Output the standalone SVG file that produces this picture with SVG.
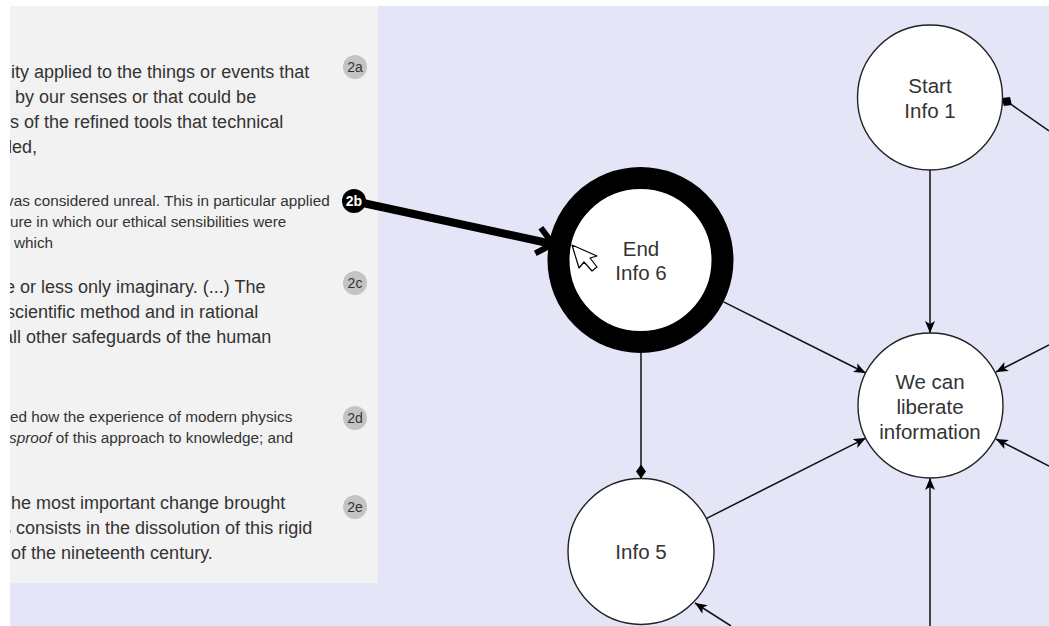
<svg xmlns="http://www.w3.org/2000/svg" width="1049" height="626" viewBox="0 0 1049 626">
<defs>
<style>
.t{font-family:"Liberation Sans",Arial,sans-serif;fill:#333}
.p18{font-size:18px}
.p15{font-size:15.3px}
.lbl{font-family:"Liberation Sans",Arial,sans-serif;font-size:20.5px;fill:#333;text-anchor:middle}
.node{fill:#fff;stroke:#222;stroke-width:1.4}
.edge{fill:none;stroke:#111;stroke-width:1.5}
.badge{fill:#c4c4c4}
.btxt{font-family:"Liberation Sans",Arial,sans-serif;font-size:14px;fill:#333;text-anchor:middle}
</style>
<marker id="arr" viewBox="0 0 12 10" refX="12" refY="5" markerWidth="12" markerHeight="10" markerUnits="userSpaceOnUse" orient="auto"><path d="M0,0 L12,5 L0,10 L3,5 Z" fill="#000"/></marker>
<marker id="dia" viewBox="0 0 14 10" refX="14" refY="5" markerWidth="14" markerHeight="10" markerUnits="userSpaceOnUse" orient="auto"><path d="M0,5 L7,0 L14,5 L7,10 Z" fill="#000"/></marker>
<marker id="dia2" viewBox="0 0 12 11" refX="12" refY="5.5" markerWidth="12" markerHeight="11" markerUnits="userSpaceOnUse" orient="auto"><path d="M0,5.5 L6,0 L12,5.5 L6,11 Z" fill="#000"/></marker>
<clipPath id="panelClip"><rect x="10" y="6" width="368" height="577"/></clipPath>
</defs>
<rect x="0" y="0" width="1049" height="626" fill="#fff"/>
<rect x="10" y="6" width="1039" height="620" fill="#e5e5f8"/>
<rect x="10" y="6" width="368" height="577" fill="#f2f2f2"/>

<g id="panel-text" clip-path="url(#panelClip)">
<text class="t p18" x="11" y="78">ity applied to the things or events that</text>
<text class="t p18" x="15" y="103">by our senses or that could be</text>
<text class="t p18" x="10" y="128">s of the refined tools that technical</text>
<text class="t p18" x="8" y="153">led,</text>
<text class="t p15" x="6" y="206">vas considered unreal. This in particular applied</text>
<text class="t p15" x="10" y="227">ure in which our ethical sensibilities were</text>
<text class="t p15" x="14" y="248">which</text>
<text class="t p18" x="5" y="293">e or less only imaginary. (...) The</text>
<text class="t p18" x="6" y="318">scientific method and in rational</text>
<text class="t p18" x="3" y="343">all other safeguards of the human</text>
<text class="t p15" x="10" y="422">ed how the experience of modern physics</text>
<text class="t p15" x="9" y="443"><tspan font-style="italic">sproof</tspan> of this approach to knowledge; and</text>
<text class="t p18" x="11" y="509">he most important change brought</text>
<text class="t p18" x="2" y="534">s consists in the dissolution of this rigid</text>
<text class="t p18" x="11" y="559">of the nineteenth century.</text>
</g>

<g id="connectors">
<line class="edge" x1="930" y1="170" x2="930" y2="333" marker-end="url(#arr)"/>
<line class="edge" x1="723.6" y1="301.8" x2="865.7" y2="373" marker-end="url(#arr)"/>
<line class="edge" x1="706.2" y1="518.6" x2="865.8" y2="438.1" marker-end="url(#arr)"/>
<line class="edge" x1="641" y1="353" x2="641" y2="478.5" marker-end="url(#dia)"/>
<line class="edge" x1="930" y1="626" x2="930" y2="478" marker-end="url(#arr)"/>
<line class="edge" x1="1049" y1="345" x2="996" y2="372" marker-end="url(#arr)"/>
<line class="edge" x1="1049" y1="466" x2="996" y2="439" marker-end="url(#arr)"/>
<line class="edge" x1="1049" y1="131" x2="1002" y2="98" marker-end="url(#dia2)"/>
<line class="edge" x1="731" y1="626" x2="695" y2="603" marker-end="url(#arr)"/>
</g>

<g id="node-start-info1">
<circle class="node" cx="930" cy="97.5" r="72.5"/>
<text class="lbl" x="930" y="93">Start</text>
<text class="lbl" x="930" y="118">Info 1</text>
</g>
<g id="node-end-info6">
<circle cx="640.5" cy="260" r="82" fill="#fff" stroke="#000" stroke-width="22"/>
<text class="lbl" x="641" y="256">End</text>
<text class="lbl" x="641" y="280">Info 6</text>
</g>
<g id="node-we-can">
<circle class="node" cx="930.5" cy="405.5" r="72.5"/>
<text class="lbl" x="930" y="389">We can</text>
<text class="lbl" x="930" y="414">liberate</text>
<text class="lbl" x="930" y="439">information</text>
</g>
<g id="node-info5">
<circle class="node" cx="641" cy="551.5" r="73"/>
<text class="lbl" x="641" y="559">Info 5</text>
</g>

<g id="annotation-arrow">
<line x1="356" y1="201.5" x2="550" y2="243.5" stroke="#000" stroke-width="8"/>
<polyline points="540.8,227.7 553,244 535.3,253.3" fill="none" stroke="#000" stroke-width="6"/>
</g>

<g id="badge-2a"><circle class="badge" cx="355" cy="67" r="12"/><text class="btxt" x="355" y="72">2a</text></g>
<g id="badge-2b"><circle cx="354" cy="201" r="12" fill="#000"/><text class="btxt" x="354" y="206" style="fill:#fff;font-weight:bold">2b</text></g>
<g id="badge-2c"><circle class="badge" cx="355" cy="283" r="12"/><text class="btxt" x="355" y="288">2c</text></g>
<g id="badge-2d"><circle class="badge" cx="355" cy="418" r="12"/><text class="btxt" x="355" y="423">2d</text></g>
<g id="badge-2e"><circle class="badge" cx="355" cy="507" r="12"/><text class="btxt" x="355" y="512">2e</text></g>

<g id="cursor">
<polygon points="572,245 579,268 584,262 592,271 597,267 590,258 597,256" fill="#fff" stroke="#000" stroke-width="1.2" stroke-linejoin="round"/>
</g>
</svg>
